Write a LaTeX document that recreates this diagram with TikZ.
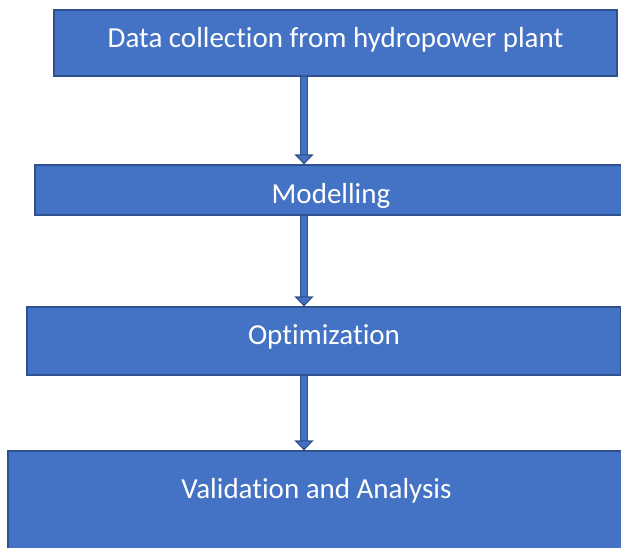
\documentclass[tikz,border=0pt]{standalone}
\usepackage{fontspec}
\setmainfont[Ligatures=NoCommon]{Carlito}
\usetikzlibrary{arrows.meta}
\definecolor{boxblue}{HTML}{4472C4}
\definecolor{boxline}{HTML}{2F528F}
\begin{document}
\begin{tikzpicture}[x=1pt,y=-1pt,
    stage/.style={draw=boxline,line width=1.3pt,fill=boxblue,text=white,
      font=\fontsize{29}{34}\selectfont,inner sep=0pt},
    flow/.style={draw=boxline,line width=1.3pt,double=boxblue,
      double distance=5.5pt,-{Triangle[width=19pt,length=10pt,fill=boxblue]}}]
    \useasboundingbox (0,0) rectangle (621,548);
    \node[stage,minimum width=563pt,minimum height=66pt,text depth=11pt]
    (data) at (335.5,43) {Data collection from hydropower plant};
    \node[stage,minimum width=592pt,minimum height=50pt,text height=31pt]
    (model) at (331,190) {Modelling};
    \node[stage,minimum width=594pt,minimum height=68pt,text depth=13pt]
    (optim) at (324,341) {Optimization};
    \node[stage,minimum width=617pt,minimum height=110pt,text depth=36pt]
    (valid) at (316.5,506) {Validation and Analysis};
    \coordinate (axis) at (304,0);
    \draw[flow] (data.south -| axis) -- (model.north -| axis);
    \draw[flow] (model.south -| axis) -- (optim.north -| axis);
    \draw[flow] (optim.south -| axis) -- (valid.north -| axis);
\end{tikzpicture}
\end{document}
